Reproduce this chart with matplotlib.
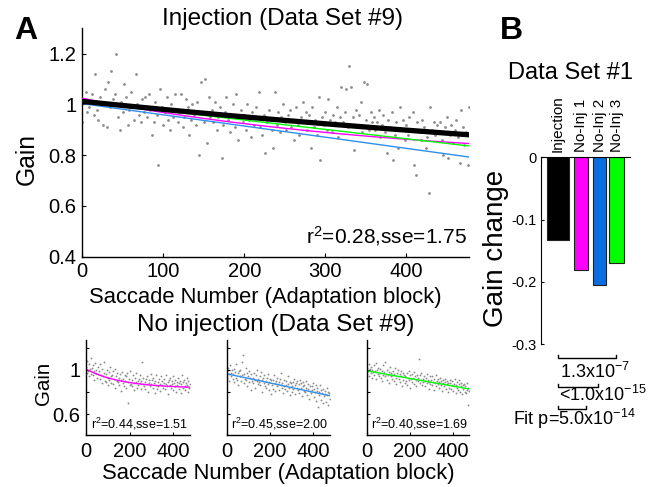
import numpy as np
import matplotlib
matplotlib.use('Agg')
import matplotlib.pyplot as plt

plt.rcParams['font.family'] = ['Liberation Sans', 'DejaVu Sans']
plt.rcParams['mathtext.fontset'] = 'custom'
plt.rcParams['mathtext.rm'] = 'Liberation Sans'

# ---- panel A, injection block: gain of every 2nd saccade ----
gain_inj = [
    0.93, 1.02, 1.05, 0.97, 0.99, 1.01, 1.04, 0.96, 1.12, 0.98, 0.94, 1.03, 1.00, 0.92, 1.06, 0.91, 1.09, 0.99, 1.13, 1.02,
    1.04, 1.20, 0.95, 0.90, 1.01, 0.97, 1.08, 1.03, 0.92, 0.98, 1.05, 0.99, 0.94, 1.12, 1.00, 0.96, 0.93, 1.02, 0.97, 1.03,
    0.95, 1.04, 0.98, 0.88, 0.93, 1.01, 0.96, 0.76, 1.06, 0.99, 0.92, 0.97, 1.03, 0.94, 0.90, 1.00, 0.95, 1.04, 0.98, 0.93,
    0.97, 1.04, 0.91, 0.95, 1.02, 0.99, 0.88, 0.94, 1.00, 0.96, 0.92, 1.01, 0.80, 1.09, 0.97, 0.93, 1.10, 0.85, 1.03, 0.95,
    0.98, 0.93, 1.01, 0.90, 0.95, 0.99, 0.79, 0.92, 0.97, 1.03, 0.94, 0.89, 0.96, 1.00, 0.91, 1.04, 0.86, 0.95, 0.98, 0.93,
    0.96, 0.90, 1.00, 0.94, 0.87, 0.97, 0.92, 0.99, 0.95, 1.05, 0.91, 0.88, 0.96, 0.81, 0.93, 0.98, 0.94, 0.90, 0.83, 1.05,
    0.92, 0.97, 0.89, 0.95, 1.00, 0.93, 0.90, 0.96, 0.98, 0.91, 0.94, 0.86, 0.99, 0.92, 0.88, 0.95, 1.01, 0.93, 0.97, 0.90,
    0.96, 0.83, 0.99, 0.91, 0.94, 0.88, 1.03, 0.78, 0.95, 0.92, 0.97, 0.90, 1.02, 0.94, 0.89, 0.96, 0.93, 0.99, 0.87, 0.95,
    1.07, 0.93, 0.97, 1.06, 0.91, 1.15, 1.07, 0.95, 0.82, 0.98, 0.92, 0.96, 1.01, 0.89, 1.09, 0.94, 1.08, 0.90, 0.97, 0.93,
    0.95, 0.90, 0.93, 0.98, 0.87, 0.92, 0.96, 0.89, 0.81, 0.94, 0.91, 0.97, 0.78, 0.88, 0.93, 0.83, 0.99, 0.90, 0.94, 0.86,
    0.92, 0.88, 0.95, 0.90, 0.97, 0.76, 0.72, 0.93, 0.89, 0.86, 0.94, 0.91, 0.83, 0.87, 0.65, 0.99, 0.90, 0.93, 0.88, 0.92,
    0.89, 0.93, 0.86, 0.80, 0.91, 0.95, 0.79, 0.88, 0.92, 0.85, 0.90, 0.94, 0.87, 0.77, 0.98, 0.91, 0.84, 0.89, 0.76, 0.99,
]

# ---- no-injection blocks: gain of every 3rd saccade ----
gain_noinj1 = [
    1.03, 0.97, 1.08, 0.99, 1.05, 0.94, 1.01, 1.11, 0.96, 1.02,
    0.95, 1.04, 0.99, 0.91, 1.06, 0.97, 1.00, 0.93, 1.03, 0.96,
    0.99, 0.92, 1.05, 0.95, 0.88, 1.01, 0.94, 0.97, 1.07, 0.90,
    0.96, 0.89, 1.00, 0.93, 0.86, 0.98, 0.91, 1.03, 0.94, 0.88,
    0.95, 0.99, 0.87, 0.92, 1.01, 0.84, 0.94, 0.90, 0.97, 0.89,
    0.93, 0.86, 0.96, 0.91, 0.81, 0.98, 0.88, 0.92, 0.85, 0.95,
    0.90, 0.94, 0.84, 0.97, 0.70, 0.89, 0.92, 0.86, 0.99, 0.87,
    0.91, 0.85, 0.95, 0.88, 0.82, 0.93, 0.89, 0.97, 0.84, 0.90,
    0.86, 0.92, 0.88, 0.95, 0.83, 0.90, 1.07, 0.87, 0.93, 0.85,
    0.89, 0.83, 0.92, 0.87, 0.94, 0.80, 0.88, 0.91, 0.85, 0.96,
    0.87, 0.91, 0.84, 0.93, 0.88, 0.79, 0.90, 0.86, 0.95, 0.83,
    0.89, 0.85, 0.92, 0.87, 0.81, 0.94, 0.86, 0.90, 0.84, 0.88,
    0.92, 0.83, 0.87, 0.95, 0.85, 0.89, 0.78, 0.91, 0.86, 0.93,
    0.84, 0.90, 0.87, 0.82, 0.94, 0.88, 0.85, 0.91, 0.80, 0.89,
    0.86, 0.93, 0.83, 0.88, 0.90, 0.79, 0.87, 0.95, 0.84, 0.89,
    0.91, 0.85, 0.82, 0.88, 0.93, 0.86, 0.80, 0.90, 0.84, 0.87,
]
gain_noinj2 = [
    0.99, 0.93, 1.02, 0.96, 0.90, 1.04, 0.97, 0.94, 1.00, 0.92,
    0.96, 1.01, 0.89, 0.98, 0.93, 1.05, 0.91, 0.97, 0.86, 0.99,
    0.94, 1.00, 0.90, 1.07, 0.95, 1.13, 0.88, 0.96, 0.92, 1.02,
    0.91, 0.97, 0.85, 0.94, 0.99, 0.89, 0.93, 0.82, 0.96, 0.90,
    0.93, 0.88, 0.97, 0.91, 0.84, 0.95, 0.90, 1.00, 0.87, 0.92,
    0.89, 0.94, 0.86, 0.98, 0.91, 0.80, 0.93, 0.88, 0.95, 0.85,
    0.90, 0.84, 0.93, 0.87, 0.96, 0.82, 0.89, 0.92, 0.78, 0.91,
    0.86, 0.91, 0.83, 0.95, 0.88, 0.81, 0.90, 0.85, 0.93, 0.87,
    0.89, 0.82, 0.92, 0.86, 0.97, 0.84, 0.88, 0.79, 0.91, 0.85,
    0.83, 0.90, 0.86, 0.81, 0.94, 0.87, 0.84, 0.89, 0.77, 0.88,
    0.85, 0.80, 0.89, 0.83, 0.92, 0.86, 0.78, 0.88, 0.84, 0.90,
    0.82, 0.87, 0.79, 0.91, 0.84, 0.88, 0.76, 0.85, 0.89, 0.81,
    0.86, 0.80, 0.84, 0.90, 0.77, 0.83, 0.87, 0.74, 0.85, 0.81,
    0.79, 0.85, 0.82, 0.88, 0.75, 0.83, 0.80, 0.86, 0.72, 0.81,
    0.84, 0.66, 0.80, 0.77, 0.86, 0.73, 0.82, 0.79, 0.70, 0.83,
    0.76, 0.81, 0.78, 0.71, 0.84, 0.77, 0.80, 0.68, 0.79, 0.74,
]
gain_noinj3 = [
    1.02, 0.96, 0.99, 1.05, 0.94, 1.01, 0.97, 1.03, 0.93, 1.00,
    0.98, 1.04, 0.95, 0.99, 1.06, 0.92, 1.00, 0.96, 1.02, 0.94,
    0.97, 1.01, 0.93, 0.99, 0.90, 1.04, 0.95, 0.98, 1.07, 0.94,
    0.96, 0.91, 1.00, 0.95, 0.98, 0.88, 1.03, 0.94, 0.97, 0.92,
    0.95, 0.99, 0.90, 0.96, 1.02, 0.93, 0.87, 0.97, 0.94, 1.00,
    0.92, 0.96, 0.89, 0.99, 0.94, 0.85, 0.97, 0.91, 0.95, 0.88,
    0.94, 0.90, 0.97, 0.86, 0.93, 0.99, 0.91, 0.95, 0.84, 0.92,
    0.96, 0.89, 0.93, 0.98, 0.87, 0.94, 0.91, 0.85, 0.95, 0.90,
    0.93, 1.10, 0.88, 0.95, 0.91, 0.97, 0.86, 0.92, 0.89, 0.94,
    0.90, 0.85, 0.93, 0.88, 0.96, 0.91, 0.83, 0.89, 0.94, 0.87,
    0.91, 0.86, 0.94, 0.89, 0.82, 0.92, 0.88, 0.95, 0.85, 0.90,
    0.87, 0.92, 0.84, 0.89, 0.93, 0.86, 0.90, 0.81, 0.88, 0.91,
    0.85, 0.89, 0.92, 0.83, 0.87, 0.90, 0.80, 0.88, 0.84, 0.91,
    0.88, 0.83, 0.86, 0.90, 0.81, 0.87, 0.85, 0.92, 0.79, 0.86,
    0.84, 0.89, 0.82, 0.87, 0.91, 0.80, 0.85, 0.88, 0.78, 0.86,
    0.83, 0.87, 0.80, 0.85, 0.79, 0.88, 0.82, 0.68, 0.84, 0.81,
]

# fitted curves: gain = a + b*exp(-n/tau)  or  a + slope*n
fit_inj = (0.581, 0.431, 1311.0)
fit_main_noinj1 = (0.764, 0.260, 413.0)
fit_main_noinj2 = (1.003, -0.00044)
fit_main_noinj3 = (1.012, -0.000368)
fit_noinj1 = (0.833, 0.173, 166.0)
fit_noinj2 = (0.964, -0.000416)
fit_noinj3 = (0.991, -0.000345)

fit_text_inj = 'r$\\mathregular{^2}$=0.28,sse=1.75'
fit_text_noinj = ['r$\\mathregular{^2}$=0.44,sse=1.51',
                  'r$\\mathregular{^2}$=0.45,sse=2.00',
                  'r$\\mathregular{^2}$=0.40,sse=1.69']

# ---- panel B ----
bar_names = ['Injection', 'No-Inj 1', 'No-Inj 2', 'No-Inj 3']
bar_change = [-0.133, -0.180, -0.205, -0.169]
p_labels = ['1.3x10$\\mathregular{^{-7}}$',
            '<1.0x10$\\mathregular{^{-15}}$',
            'Fit p=5.0x10$\\mathregular{^{-14}}$']

C_MAG = '#ff00ff'
C_BLUE = '#2f8ff0'
C_BAR_BLUE = '#0a6ee0'
C_GREEN = '#00ff00'
C_DOT = '#8c8c8c'


def exp_fit(n, p):
    return p[0] + p[1] * np.exp(-n / p[2])


def lin_fit(n, p):
    return p[0] + p[1] * n


W, H = 660, 487
fig = plt.figure(figsize=(W / 100, H / 100), dpi=100)


def px_axes(l, t, r, b):
    return fig.add_axes([l / W, 1 - b / H, (r - l) / W, (b - t) / H])


def style(ax):
    for s in ['top', 'right']:
        ax.spines[s].set_visible(False)
    ax.spines['left'].set_linewidth(1.0)
    ax.spines['bottom'].set_linewidth(1.0)


n_fit = np.linspace(0, 478, 200)

# ---- main panel ----
ax = px_axes(82.3, 28.3, 469.3, 256.7)
style(ax)
n_inj = np.arange(len(gain_inj)) * 2
ax.scatter(n_inj, gain_inj, s=4, color=C_DOT, linewidths=0, zorder=1)
ax.plot(n_fit, lin_fit(n_fit, fit_main_noinj2), color=C_BLUE, lw=1.0, zorder=2)
ax.plot(n_fit, exp_fit(n_fit, fit_main_noinj1), color=C_MAG, lw=1.0, zorder=3)
ax.plot(n_fit, lin_fit(n_fit, fit_main_noinj3), color=C_GREEN, lw=1.0, zorder=4)
ax.plot(n_fit, exp_fit(n_fit, fit_inj), color='black', lw=3.8, zorder=5,
        solid_capstyle='butt')
ax.set_xlim(0, 478)
ax.set_ylim(0.4, 1.3)
ax.set_xticks([0, 100, 200, 300, 400])
ax.set_yticks([0.4, 0.6, 0.8, 1.0, 1.2], ['0.4', '0.6', '0.8', '1', '1.2'])
ax.tick_params(direction='in', length=3, labelsize=14.5, width=0.8)
ax.tick_params(axis='x', pad=4)
ax.tick_params(axis='y', pad=4)
ax.text(0.993, 0.09, fit_text_inj, transform=ax.transAxes, ha='right',
        va='center', fontsize=15)

fig.text(283 / W, 1 - 19 / H, 'Injection (Data Set #9)', ha='center',
         va='center', fontsize=17.5)
fig.text(27 / W, 1 - 159 / H, 'Gain', rotation=90, ha='center', va='center',
         fontsize=17.7)
fig.text(265 / W, 1 - 297 / H, 'Saccade Number (Adaptation block)',
         ha='center', va='center', fontsize=15.8)
fig.text(26 / W, 1 - 31 / H, 'A', ha='center', va='center', fontsize=23,
         fontweight='bold')

# ---- no-injection panels ----
small = [(gain_noinj1, 86, 190, C_MAG, exp_fit, fit_noinj1),
         (gain_noinj2, 226.7, 330, C_BLUE, lin_fit, fit_noinj2),
         (gain_noinj3, 366.7, 469.3, C_GREEN, lin_fit, fit_noinj3)]
for i, (g, l, r, col, f, p) in enumerate(small):
    a = px_axes(l, 340, r, 435)
    style(a)
    n = np.arange(len(g)) * 3
    a.scatter(n, g, s=1.8, color=C_DOT, linewidths=0, zorder=1)
    a.plot(n_fit, f(n_fit, p), color=col, lw=1.0, zorder=2)
    a.set_xlim(0, 478)
    a.set_ylim(0.41, 1.27)
    a.set_xticks([0, 200, 400])
    if i == 0:
        a.set_yticks([0.6, 0.8, 1.0, 1.2], ['0.6', '', '1', ''])
    else:
        a.set_yticks([0.6, 0.8, 1.0, 1.2], ['', '', '', ''])
    a.tick_params(direction='in', length=2.5, labelsize=14.5, width=0.8)
    a.tick_params(axis='x', pad=5)
    a.tick_params(axis='y', pad=4)
    a.text(0.985, 0.12, fit_text_noinj[i], transform=a.transAxes, ha='right',
           va='center', fontsize=9)

fig.text(275.5 / W, 1 - 325 / H, 'No injection (Data Set #9)', ha='center',
         va='center', fontsize=17.5)
fig.text(43.5 / W, 1 - 383 / H, 'Gain', rotation=90, ha='center',
         va='center', fontsize=14.8)
fig.text(278 / W, 1 - 474 / H, 'Saccade Number (Adaptation block)',
         ha='center', va='center', fontsize=15.8)

# ---- panel B ----
bx = px_axes(541, 157.3, 630, 344.3)
bar_pos = [16.8, 40.3, 58.8, 75.8]
bar_w = [22.3, 14.0, 13.0, 15.0]
bar_col = ['black', C_MAG, C_BAR_BLUE, C_GREEN]
bx.bar(bar_pos, bar_change, width=bar_w, color=bar_col, edgecolor='#222222',
       linewidth=0.8)
bx.set_xlim(0, 89)
bx.set_ylim(-0.3, 0)
for s in ['right', 'bottom']:
    bx.spines[s].set_visible(False)
bx.xaxis.tick_top()
bx.set_xticks(bar_pos, bar_names, rotation=90, fontsize=11)
bx.tick_params(axis='x', length=0, pad=4)
bx.set_yticks([-0.3, -0.2, -0.1, 0], ['-0.3', '-0.2', '-0.1', '0'])
bx.tick_params(axis='y', direction='in', length=2.5, labelsize=10.5, pad=3)

# significance brackets below the axis
br_start = 17
br_end = [75, 57, 45]
br_y = [-0.322, -0.368, -0.404]
txt_xy = [(19, -0.344), (18, -0.382), (-28.3, -0.419)]
for e, y, (tx, ty), lab in zip(br_end, br_y, txt_xy, p_labels):
    bx.plot([br_start, br_start, e, e], [y + 0.005, y, y, y + 0.005],
            color='black', lw=1.0, clip_on=False)
    bx.text(tx, ty, lab, ha='left', va='center', fontsize=13, clip_on=False)

fig.text(571 / W, 1 - 73 / H, 'Data Set #1', ha='center', va='center',
         fontsize=17)
fig.text(496 / W, 1 - 248 / H, 'Gain change', rotation=90, ha='center',
         va='center', fontsize=20)
fig.text(511 / W, 1 - 31 / H, 'B', ha='center', va='center', fontsize=23,
         fontweight='bold')

fig.savefig('out.png', dpi=100)
